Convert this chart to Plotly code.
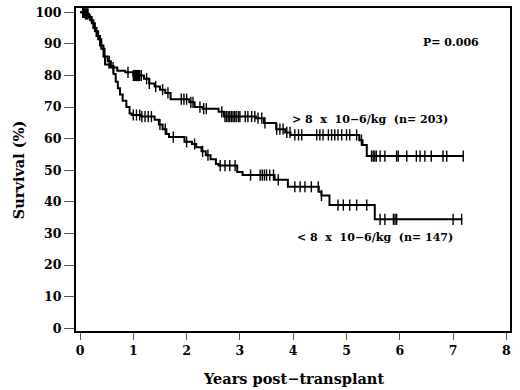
import numpy as np
import plotly.graph_objects as go

# ---- Data ----
hi_t = [0, 0.10, 0.16, 0.19, 0.25, 0.31, 0.375, 0.44, 0.47, 0.55, 0.70, 0.85, 1.00, 1.20, 1.30, 1.40,
        1.50, 1.60, 1.70, 2.05, 2.15, 2.30, 2.60, 2.70, 3.30, 3.45, 3.68, 3.85, 3.95, 5.24, 5.30, 5.38, 7.19]
hi_s = [100, 99.5, 99, 97.5, 95, 92.5, 89.5, 86, 83.5, 82.5, 81.5, 81, 80, 79, 77.5, 76.5,
        75.5, 74.5, 72.5, 71.5, 70, 69.5, 68.5, 67, 66.5, 65, 63, 62, 61.2, 59.5, 58, 54.5, 54.5]
hi_cens = [0.05, 0.08, 0.12, 0.15, 0.62, 0.90, 1.00, 1.02, 1.04, 1.06, 1.08, 1.10, 1.12, 1.15,
           1.25, 1.30, 1.42, 1.55, 1.65, 1.90, 1.95, 2.00, 2.08, 2.12, 2.25, 2.32, 2.37,
           2.66, 2.72, 2.75, 2.78, 2.81, 2.84, 2.87, 2.90, 2.93, 2.97, 3.00, 3.10, 3.15,
           3.22, 3.28, 3.34, 3.41, 3.47, 3.69, 3.75, 3.81, 3.88, 3.94, 4.03, 4.10, 4.16,
           4.44, 4.50, 4.56, 4.66, 4.72, 4.78, 4.84, 4.91, 5.00, 5.06, 5.19, 5.28,
           5.47, 5.50, 5.53, 5.56, 5.63, 5.72, 5.94, 5.97, 6.13, 6.31, 6.38, 6.47, 6.59,
           6.81, 6.88, 7.19]

lo_t = [0, 0.10, 0.17, 0.22, 0.28, 0.34, 0.40, 0.46, 0.52, 0.58, 0.63, 0.67, 0.71, 0.75, 0.80,
        0.87, 0.93, 0.97, 1.15, 1.40, 1.48, 1.55, 1.62, 1.67, 1.96, 2.10, 2.18, 2.28, 2.36,
        2.45, 2.55, 2.60, 2.95, 3.05, 3.65, 3.90, 4.48, 4.53, 4.68, 5.53, 7.17]
lo_s = [100, 99.5, 98.5, 96.5, 94, 91.5, 88.5, 86, 84.5, 83, 80.5, 78, 76, 74, 72,
        70, 68, 67.5, 67, 66, 64.5, 63, 61.5, 60.5, 59, 58.3, 57.3, 56, 54.8,
        53.5, 52, 51.5, 49.5, 48.5, 47, 44.8, 43.2, 42, 39, 34.5, 34.5]
lo_cens = [0.06, 0.10, 0.14, 0.55, 1.00, 1.06, 1.12, 1.16, 1.22, 1.28, 1.34, 1.50, 1.60, 1.75,
           2.00, 2.15, 2.30, 2.40, 2.63, 2.72, 2.81, 2.91, 3.20, 3.38, 3.42, 3.46, 3.50,
           3.56, 3.63, 3.72, 4.03, 4.13, 4.22, 4.34, 4.47, 4.53, 4.84, 4.94, 5.06, 5.19,
           5.38, 5.63, 5.72, 5.88, 5.91, 5.94, 7.00, 7.16]

x_ticks = [0, 1, 2, 3, 4, 5, 6, 7, 8]
y_ticks = [0, 10, 20, 30, 40, 50, 60, 70, 80, 90, 100]

label_hi = "> 8\u00a0 x\u00a0 10\u22126/kg\u00a0 (n= 203)"
label_lo = "< 8\u00a0 x\u00a0 10\u22126/kg\u00a0 (n= 147)"
p_text = "P= 0.006"
x_title = "Years post\u2212transplant"
y_title = "Survival (%)"


def step_at(times, surv, c):
    idx = np.searchsorted(np.asarray(times), np.asarray(c), side="right") - 1
    return list(np.asarray(surv)[idx])


FONT = "DejaVu Serif"
fig = go.Figure()
for t, s, c in [(hi_t, hi_s, hi_cens), (lo_t, lo_s, lo_cens)]:
    fig.add_trace(go.Scatter(x=t, y=s, mode="lines", line=dict(color="black", width=2, shape="hv"),
                             showlegend=False, hoverinfo="skip"))
    fig.add_trace(go.Scatter(x=c, y=step_at(t, s, c), mode="markers",
                             marker=dict(symbol="line-ns", size=8, line=dict(color="black", width=1.4)),
                             showlegend=False, hoverinfo="skip"))

fig.add_annotation(x=5.44, y=66.2, text="<b>" + label_hi + "</b>", showarrow=False,
                   font=dict(family=FONT, size=11, color="black"))
fig.add_annotation(x=5.53, y=28.8, text="<b>" + label_lo + "</b>", showarrow=False,
                   font=dict(family=FONT, size=11, color="black"))
fig.add_annotation(x=6.96, y=90.3, text="<b>" + p_text + "</b>", showarrow=False,
                   font=dict(family=FONT, size=11, color="black"))
fig.add_annotation(xref="x", yref="paper", x=4.0, y=-0.148, yanchor="middle",
                   text="<b>" + x_title + "</b>", showarrow=False,
                   font=dict(family=FONT, size=14.5, color="black"))
fig.add_annotation(xref="paper", yref="y", x=-0.134, y=50, xanchor="center", textangle=-90,
                   text="<b>" + y_title + "</b>", showarrow=False,
                   font=dict(family=FONT, size=14.5, color="black"))

fig.update_layout(
    width=520, height=390,
    margin=dict(l=76, r=10, t=8, b=59, autoexpand=False),
    paper_bgcolor="white", plot_bgcolor="white",
    font=dict(family=FONT, color="black"),
)
fig.update_xaxes(range=[-0.075, 8.067], tickvals=x_ticks, ticktext=["<b>%d</b>" % v for v in x_ticks],
                 ticks="outside", ticklen=7, tickwidth=1, tickcolor="#555", automargin=False,
                 showline=True, linecolor="black", linewidth=2, mirror=True,
                 showgrid=False, zeroline=False, tickfont=dict(family=FONT, size=12.5))
fig.update_yaxes(range=[-0.85, 101.36], tickvals=y_ticks, ticktext=["<b>%d</b>" % v for v in y_ticks],
                 ticks="outside", ticklen=10, tickwidth=1, tickcolor="#555", automargin=False,
                 showline=True, linecolor="black", linewidth=2, mirror=True,
                 showgrid=False, zeroline=False, tickfont=dict(family=FONT, size=12.5))

fig.write_html("out.html", config={"displayModeBar": False},
               post_script="document.body.style.margin='0';")
